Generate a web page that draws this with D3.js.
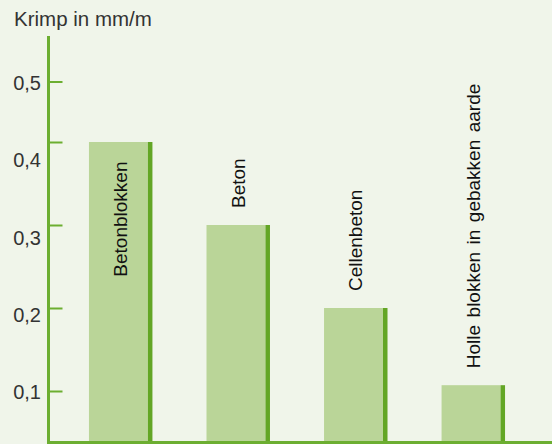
<!DOCTYPE html>
<html>
<head>
<meta charset="utf-8">
<script src="https://cdn.jsdelivr.net/npm/d3@7"></script>
<style>
  html, body { margin: 0; padding: 0; background: #f0f5ea; }
  svg { display: block; }
  text { font-family: "Liberation Sans", Arial, Helvetica, sans-serif; }
</style>
</head>
<body>
<svg id="chart" width="552" height="444"></svg>
<script>
// ---- data ----
const categories = ["Betonblokken", "Beton", "Cellenbeton", "Holle blokken in gebakken aarde"];
const values = [0.40, 0.30, 0.20, 0.107];
const tickValues = [0.1, 0.2, 0.3, 0.4, 0.5];
const tickLabels = ["0,1", "0,2", "0,3", "0,4", "0,5"];
const yTitle = "Krimp in mm/m";

// ---- layout ----
const W = 552, H = 444;
const axisX = 48.5;
const baseY = 442.5;
const bg = "#f0f5ea";
const lightGreen = "#bad598";
const darkGreen = "#63a625";
const axisGreen = "#6cae31";

const svg = d3.select("#chart");
svg.append("rect").attr("width", W).attr("height", H).attr("fill", bg);

// scale for marks (as drawn in the original: ticks are not evenly spaced at the top)
const y = d3.scaleLinear().domain([0, 0.4, 0.5]).range([474, 142, 81.5]);
// scale for tick label positions
const yLabel = d3.scaleLinear().domain([0.1, 0.5]).range([392, 83]);

const x = d3.scaleBand().domain(categories).range([47, 547])
  .paddingInner(0.46).paddingOuter(0.357);

// title
svg.append("text").attr("x", 14).attr("y", 26)
  .attr("font-size", 20.5).attr("fill", "#333")
  .text(yTitle);

// bars
const stripe = 4.5;
const bars = svg.append("g");
categories.forEach((c, i) => {
  const x0 = x(c), bw = x.bandwidth();
  const top = y(values[i]);
  bars.append("rect").attr("x", x0).attr("y", top)
    .attr("width", bw - stripe).attr("height", baseY - top)
    .attr("fill", lightGreen);
  bars.append("rect").attr("x", x0 + bw - stripe).attr("y", top)
    .attr("width", stripe).attr("height", baseY - top)
    .attr("fill", darkGreen);
  const cx = x0 + bw / 2;
  const inside = i === 0;
  const ty = inside ? top + 19.5 : top - 17;
  svg.append("text")
    .attr("transform", `translate(${cx},${ty}) rotate(-90)`)
    .attr("text-anchor", inside ? "end" : "start")
    .attr("dy", "0.35em")
    .attr("font-size", 19)
    .attr("word-spacing", 2.2)
    .attr("fill", "#111")
    .text(c);
});

// y axis
const yAxis = d3.axisRight(y).tickValues(tickValues).tickSize(14).tickFormat("");
const ga = svg.append("g").attr("transform", `translate(${axisX},0)`).call(yAxis);
ga.select(".domain").remove();
ga.selectAll(".tick line").attr("stroke", axisGreen).attr("stroke-width", 2);

svg.append("line").attr("x1", axisX).attr("x2", axisX).attr("y1", 36).attr("y2", H)
  .attr("stroke", axisGreen).attr("stroke-width", 3);
svg.append("line").attr("x1", axisX - 1.5).attr("x2", W).attr("y1", baseY).attr("y2", baseY)
  .attr("stroke", axisGreen).attr("stroke-width", 3);

// tick labels
svg.append("g").selectAll("text").data(tickValues).join("text")
  .attr("x", 41).attr("y", d => yLabel(d)).attr("dy", "0.36em")
  .attr("text-anchor", "end").attr("font-size", 20).attr("fill", "#333")
  .text((d, i) => tickLabels[i]);
</script>
</body>
</html>
